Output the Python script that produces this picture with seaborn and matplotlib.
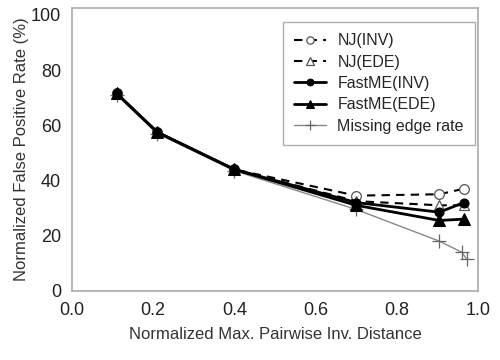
import matplotlib
matplotlib.use("Agg")
import matplotlib.pyplot as plt
import seaborn as sns
import pandas as pd

x_alg = [0.11, 0.21, 0.40, 0.70, 0.905, 0.965]
nj_inv = [71.5, 57.5, 44.0, 34.5, 35.0, 37.0]
nj_ede = [71.5, 57.5, 44.0, 32.5, 31.0, 31.0]
fm_inv = [71.5, 57.5, 44.0, 32.0, 28.5, 32.0]
fm_ede = [71.5, 57.5, 44.0, 31.0, 25.5, 26.0]
x_miss = [0.11, 0.21, 0.40, 0.70, 0.905, 0.96, 0.972]
missing = [71.0, 57.0, 43.5, 29.5, 18.0, 14.0, 11.5]

sns.set_style("white")
plt.rcParams['font.family'] = ['Liberation Sans', 'DejaVu Sans']

fig = plt.figure(figsize=(5, 3.6), dpi=100)
ax = fig.add_axes([0.144, 0.192, 0.812, 0.786])

sns.lineplot(x=x_miss, y=missing, ax=ax, color="#888888", lw=1.0, marker="+",
             markersize=10, markeredgewidth=0.9, markeredgecolor="#666666",
             label="Missing edge rate", zorder=2)
sns.lineplot(x=x_alg, y=nj_inv, ax=ax, color="black", lw=1.5, linestyle=(0, (4, 3)),
             marker="o", markersize=7, markerfacecolor="white", markeredgecolor="#555555",
             markeredgewidth=0.9, label="NJ(INV)", zorder=3)
sns.lineplot(x=x_alg, y=nj_ede, ax=ax, color="black", lw=1.5, linestyle=(0, (4, 3)),
             marker="^", markersize=7, markerfacecolor="white", markeredgecolor="#555555",
             markeredgewidth=0.9, label="NJ(EDE)", zorder=3)
sns.lineplot(x=x_alg, y=fm_inv, ax=ax, color="black", lw=2.0, marker="o",
             markersize=6.5, markerfacecolor="black", markeredgecolor="black",
             label="FastME(INV)", zorder=4)
sns.lineplot(x=x_alg, y=fm_ede, ax=ax, color="black", lw=2.0, marker="^",
             markersize=8, markerfacecolor="black", markeredgecolor="black",
             label="FastME(EDE)", zorder=4)

ax.set_xlim(0, 1.0)
ax.set_ylim(0, 102.5)
ax.set_xticks([0.0, 0.2, 0.4, 0.6, 0.8, 1.0])
ax.set_xticklabels(["0.0", "0.2", "0.4", "0.6", "0.8", "1.0"])
ax.set_yticks([0, 20, 40, 60, 80, 100])
ax.tick_params(axis="both", direction="out", length=6, width=1, color="#999999",
               labelsize=13, labelcolor="#222222", pad=2)
for s in ax.spines.values():
    s.set_color("#aaaaaa")
    s.set_linewidth(1.2)
ax.set_xlabel("Normalized Max. Pairwise Inv. Distance", fontsize=12, color="#333333", labelpad=6)
ax.set_ylabel("Normalized False Positive Rate (%)", fontsize=12, color="#333333", labelpad=1)

h, l = ax.get_legend_handles_labels()
order = ["NJ(INV)", "NJ(EDE)", "FastME(INV)", "FastME(EDE)", "Missing edge rate"]
hd = dict(zip(l, h))
leg = ax.legend([hd[k] for k in order], order, loc="upper right", bbox_to_anchor=(0.993, 0.95),
                borderaxespad=0,
                fontsize=11.5, frameon=True, fancybox=False, edgecolor="#999999",
                handlelength=2.0, labelspacing=0.4, borderpad=0.7, handletextpad=0.7,
                markerscale=0.75)
leg.get_frame().set_linewidth(1.0)

fig.savefig("out.png", dpi=100)
